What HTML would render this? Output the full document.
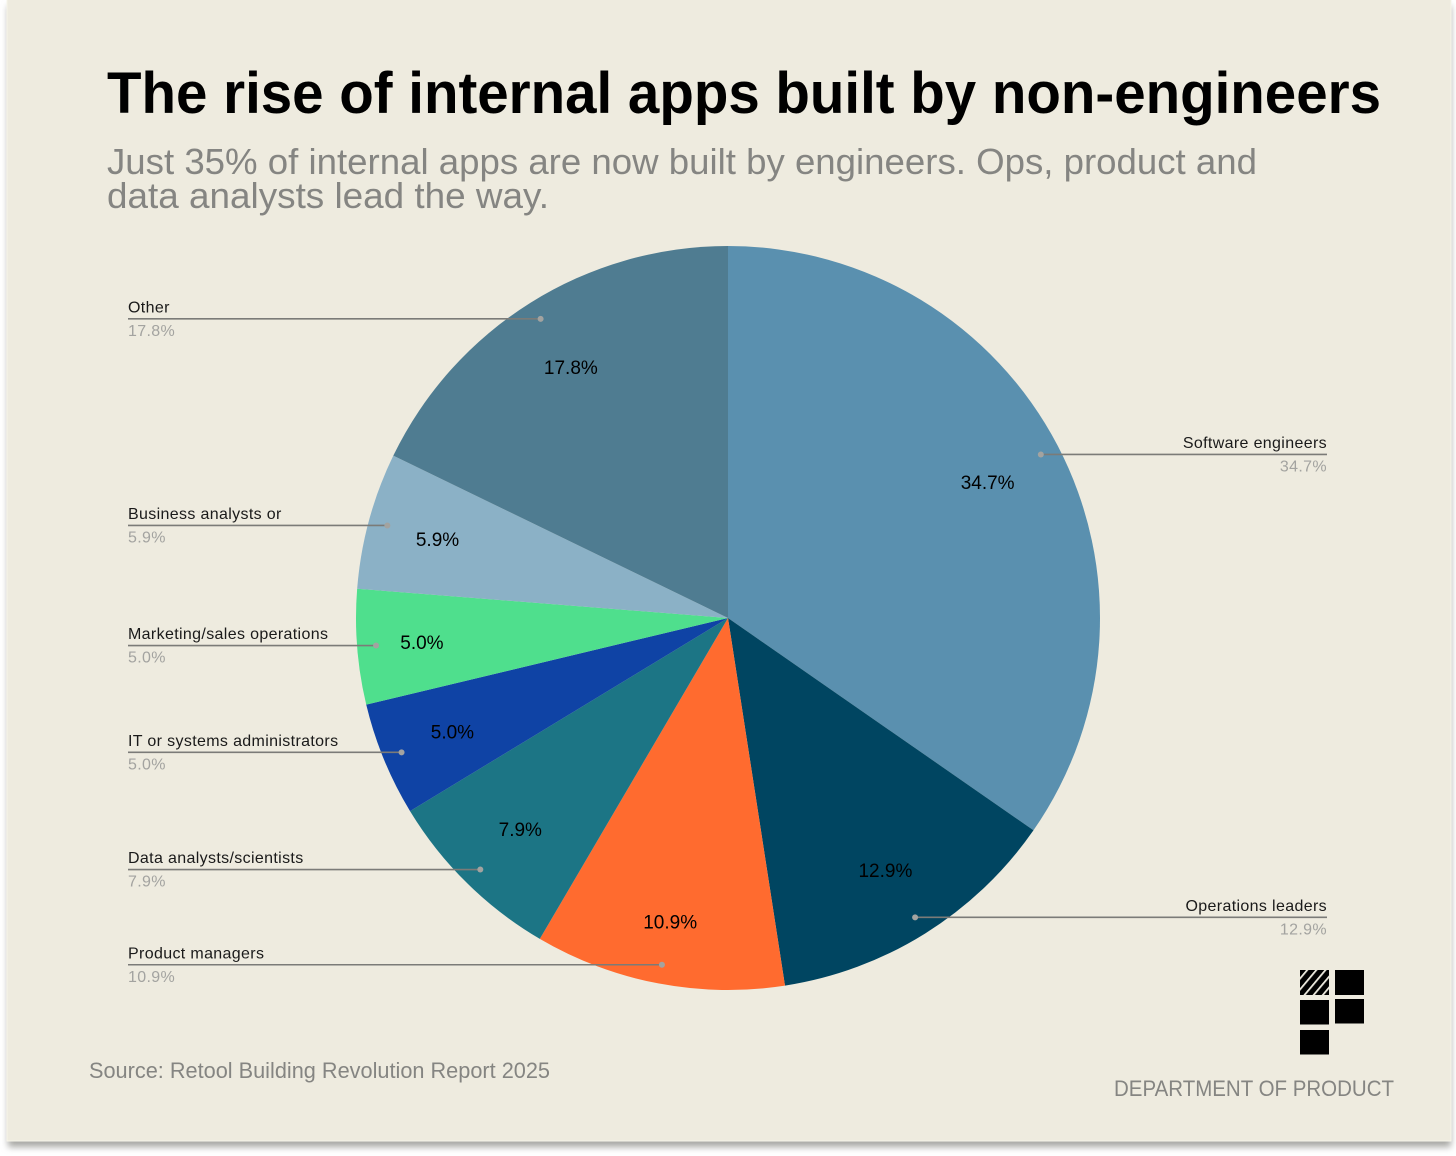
<!DOCTYPE html>
<html lang="en">
<head>
<meta charset="utf-8">
<title>The rise of internal apps built by non-engineers</title>
<style>
html,body{margin:0;padding:0;width:1456px;height:1156px;background:#fff;overflow:hidden}
svg{display:block;font-family:"Liberation Sans",sans-serif}
</style>
</head>
<body>
<svg id="chart" width="1456" height="1156" viewBox="0 0 1456 1156">
  <defs>
    <filter id="shadow" x="-5%" y="-5%" width="110%" height="110%">
      <feGaussianBlur stdDeviation="3.5"></feGaussianBlur>
    </filter>
    <pattern id="hatch" width="7" height="7" patternUnits="userSpaceOnUse" patternTransform="rotate(40)">
      <rect width="7" height="7" fill="#000"></rect>
      <rect width="1.8" height="7" fill="#eeebdf"></rect>
    </pattern>
  </defs>
  <rect x="8" y="6" width="1443" height="1141" fill="#a8a8a4" filter="url(#shadow)"></rect>
  <rect x="7" y="-2" width="1444" height="1143" fill="#eeebdf" stroke="#f7f5ea" stroke-width="1"></rect>

  <text x="107" y="113" font-size="58" font-weight="700" fill="#000" textLength="1274" lengthAdjust="spacingAndGlyphs">The rise of internal apps built by non-engineers</text>
  <text x="107" y="174" font-size="36" fill="#858582" textLength="1150" lengthAdjust="spacingAndGlyphs">Just 35% of internal apps are now built by engineers. Ops, product and</text>
  <text x="107" y="208" font-size="36" fill="#858582" textLength="442" lengthAdjust="spacingAndGlyphs">data analysts lead the way.</text>

  <g id="slices"></g>
  <g id="callouts"></g>
  <g id="pct-labels"></g>

  <text x="89" y="1078" font-size="22" fill="#858582" textLength="461" lengthAdjust="spacingAndGlyphs">Source: Retool Building Revolution Report 2025</text>

  <g>
    <rect x="1300" y="970" width="29" height="25" fill="url(#hatch)"></rect>
    <rect x="1335" y="970" width="29" height="25" fill="#000"></rect>
    <rect x="1300" y="1000" width="29" height="24.500" fill="#000"></rect>
    <rect x="1335" y="999" width="29" height="24.500" fill="#000"></rect>
    <rect x="1300" y="1030" width="29" height="24.500" fill="#000"></rect>
  </g>
  <text x="1114" y="1096" font-size="22" fill="#858582" textLength="280" lengthAdjust="spacingAndGlyphs">DEPARTMENT OF PRODUCT</text>
</svg>
<script>
const categories = ["Software engineers", "Operations leaders", "Product managers", "Data analysts/scientists", "IT or systems administrators", "Marketing/sales operations", "Business analysts or", "Other"];
const shareValues = [34.7, 12.9, 10.9, 7.88, 4.95, 5.0, 5.94, 17.83];
const sliceColors = ["#5a90af", "#004561", "#ff6b2f", "#1c7585", "#0f43a5", "#4fdf8d", "#8bb1c6", "#4f7c91"];
const valueLabelRadii = [293, 297, 309, 296, 298, 307, 301, 296];

const NS = "http://www.w3.org/2000/svg";
const cx = 728, cy = 618, radius = 372;
const dotRadius = 353;
const leftEdge = 128, rightEdge = 1327;
const total = shareValues.reduce((a, b) => a + b, 0);

function angleOf(share) {
  return share / total * 2 * Math.PI;
}
function pointAt(angle, r) {
  return [cx + r * Math.sin(angle), cy - r * Math.cos(angle)];
}
function make(tag, attrs, parent) {
  const el = document.createElementNS(NS, tag);
  for (const k in attrs) el.setAttribute(k, attrs[k]);
  parent.appendChild(el);
  return el;
}
function slug(s) {
  return s.toLowerCase().replace(/[^a-z0-9]+/g, "-");
}

const sliceGroup = document.getElementById("slices");
const calloutGroup = document.getElementById("callouts");
const pctGroup = document.getElementById("pct-labels");

let cumulative = 0;
shareValues.forEach((value, i) => {
  const start = angleOf(cumulative);
  const end = angleOf(cumulative + value);
  const mid = (start + end) / 2;
  cumulative += value;
  const p0 = pointAt(start, radius);
  const p1 = pointAt(end, radius);
  const large = end - start > Math.PI ? 1 : 0;
  const name = slug(categories[i]);
  const printed = (Math.round(value * 10 + 1e-6) / 10).toFixed(1) + "%";

  const slice = make("path", {
    d: `M${cx},${cy}L${p0[0]},${p0[1]}A${radius},${radius} 0 ${large} 1 ${p1[0]},${p1[1]}Z`,
    fill: sliceColors[i]
  }, sliceGroup);
  
  

  const dot = pointAt(mid, dotRadius);
  const onRight = mid < Math.PI;
  const edge = onRight ? rightEdge : leftEdge;
  const anchor = onRight ? "end" : "start";

  const line = make("line", {
    x1: dot[0], y1: dot[1], x2: edge, y2: dot[1],
    stroke: "#7b7b78", "stroke-width": 1.6
  }, calloutGroup);
  
  

  const marker = make("circle", { cx: dot[0], cy: dot[1], r: 3, fill: "#a3a3a0" }, calloutGroup);
  
  

  const nameText = make("text", {
    x: edge, y: dot[1] - 6.5, "font-size": 16, fill: "#1a1a1a", "text-anchor": anchor, "letter-spacing": 0.35
  }, calloutGroup);
  nameText.textContent = categories[i];
  
  

  const valueText = make("text", {
    x: edge, y: dot[1] + 17, "font-size": 16, fill: "#a3a3a0", "text-anchor": anchor, "letter-spacing": 0.35
  }, calloutGroup);
  valueText.textContent = printed;
  
  

  const inner = pointAt(mid, valueLabelRadii[i]);
  const pct = make("text", {
    x: inner[0], y: inner[1] + 7, "font-size": 19, fill: "#000", "text-anchor": "middle"
  }, pctGroup);
  pct.textContent = printed;
  
  
});
</script>
</body>
</html>
